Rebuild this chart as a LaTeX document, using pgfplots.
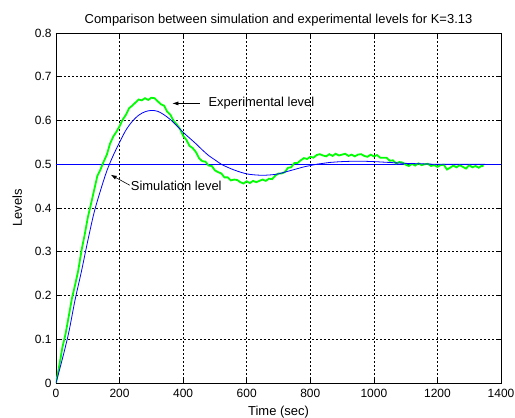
\documentclass[border=0pt]{standalone}
\usepackage{fontspec}
\setmainfont{Liberation Sans}
\usepackage{pgfplots}
\pgfplotsset{compat=1.18}
\usetikzlibrary{arrows.meta, calc}
\definecolor{simblue}{RGB}{0,0,255}
\definecolor{expgreen}{RGB}{0,255,0}

\begin{document}
\begin{tikzpicture}
  \begin{axis}[
    scale only axis,
    width=445bp,
    height=350bp,
    xmin=0, xmax=1400,
    ymin=0, ymax=0.8,
    xtick={0,200,400,600,800,1000,1200,1400},
    xticklabels={0,200,400,600,800,1000,1200,1400},
    ytick={0,0.1,0.2,0.3,0.4,0.5,0.6,0.7,0.8},
    yticklabels={0,0.1,0.2,0.3,0.4,0.5,0.6,0.7,0.8},
    tick align=inside,
    major tick length=4bp,
    grid=major,
    grid style={black, line width=0.5bp, dash pattern=on 2bp off 2bp},
    axis line style={black, line width=0.6bp},
    tick style={black, line width=0.6bp},
    font=\fontsize{13}{15}\selectfont,
    tick label style={font=\fontsize{12}{14}\selectfont},
    xticklabel style={yshift=-3bp},
    yticklabel style={xshift=-1bp},
    title={Comparison between simulation and experimental levels for K=3.13},
    title style={yshift=-3bp},
    xlabel={Time (sec)},
    xlabel style={yshift=-1bp},
    ylabel={Levels},
    ylabel style={yshift=6bp},
  ]

    % Sollwert 0.5
    \addplot[simblue, line width=0.8bp] coordinates {(0,0.5) (1400,0.5)};

    % Experimenteller Verlauf (verrauscht)
    \addplot[expgreen, line width=1.8bp] coordinates {
      (0,0) (10,0.038) (20,0.081) (30,0.112) (40,0.152) (50,0.193)
      (60,0.224) (70,0.257) (80,0.302) (90,0.338) (100,0.378) (110,0.409)
      (120,0.441) (130,0.473) (140,0.488) (150,0.506) (160,0.522) (170,0.547)
      (180,0.563) (190,0.574) (200,0.587) (210,0.602) (220,0.613) (230,0.628)
      (240,0.634) (250,0.641) (260,0.648) (270,0.646) (280,0.651) (290,0.647)
      (300,0.652) (310,0.651) (320,0.644) (330,0.637) (340,0.634) (350,0.62)
      (360,0.613) (370,0.599) (380,0.591) (390,0.581) (400,0.565) (410,0.556)
      (420,0.542) (430,0.537) (440,0.528) (450,0.514) (460,0.507) (470,0.506)
      (480,0.497) (490,0.496) (500,0.486) (510,0.482) (520,0.479) (530,0.47)
      (540,0.47) (550,0.463) (560,0.465) (570,0.464) (580,0.459) (590,0.456)
      (600,0.461) (610,0.457) (620,0.462) (630,0.459) (640,0.462) (650,0.465)
      (660,0.462) (670,0.467) (680,0.466) (690,0.474) (700,0.479) (710,0.479)
      (720,0.482) (730,0.492) (740,0.493) (750,0.503) (760,0.503) (770,0.509)
      (780,0.514) (790,0.512) (800,0.517) (810,0.515) (820,0.521) (830,0.523)
      (840,0.52) (850,0.518) (860,0.523) (870,0.519) (880,0.524) (890,0.52)
      (900,0.522) (910,0.524) (920,0.519) (930,0.522) (940,0.518) (950,0.522)
      (960,0.523) (970,0.519) (980,0.517) (990,0.522) (1000,0.518) (1010,0.521)
      (1020,0.515) (1030,0.515) (1040,0.515) (1050,0.508) (1060,0.509) (1070,0.502)
      (1080,0.505) (1090,0.504) (1100,0.499) (1110,0.496) (1120,0.501) (1130,0.497)
      (1140,0.502) (1150,0.498) (1160,0.5) (1170,0.501) (1180,0.496) (1190,0.498)
      (1200,0.494) (1210,0.498) (1220,0.499) (1230,0.488) (1240,0.492) (1250,0.497)
      (1260,0.493) (1270,0.498) (1280,0.494) (1290,0.49) (1300,0.498) (1310,0.493)
      (1320,0.496) (1330,0.492) (1340,0.497) (1345,0.495)
    };

    % Simulierter Verlauf
    \addplot[simblue, line width=0.8bp, smooth] coordinates {
      (0,0) (20,0.055) (40,0.115) (60,0.19) (80,0.255) (100,0.325)
      (120,0.39) (140,0.44) (160,0.485) (180,0.52) (200,0.55) (220,0.578)
      (240,0.598) (260,0.612) (280,0.62) (300,0.623) (320,0.621) (340,0.613)
      (360,0.602) (380,0.588) (400,0.573) (420,0.56) (440,0.547) (460,0.533)
      (480,0.52) (500,0.51) (520,0.5) (540,0.493) (560,0.487) (580,0.482)
      (600,0.478) (620,0.476) (640,0.475) (660,0.475) (680,0.476) (700,0.478)
      (720,0.482) (740,0.486) (760,0.49) (780,0.494) (800,0.497) (820,0.5)
      (840,0.502) (860,0.504) (900,0.506) (950,0.507) (1000,0.506) (1050,0.504)
      (1100,0.502) (1150,0.501) (1200,0.5) (1350,0.5)
    };

    % Beschriftungen mit Pfeilen
    \draw[black, line width=0.6bp, -{Latex[length=6bp, width=4bp]}]
      (axis cs:452,0.639) -- (axis cs:366,0.639);
    \node[anchor=west, inner sep=1bp] at (axis cs:476,0.639) {Experimental level};

    \draw[black, line width=0.6bp, -{Latex[length=6bp, width=4bp]}]
      (axis cs:232,0.452) -- (axis cs:172,0.476);
    \node[anchor=west, inner sep=1bp] at (axis cs:232,0.45) {Simulation level};

    \coordinate (bl) at (rel axis cs:0,0);
    \coordinate (tr) at (rel axis cs:1,1);
  \end{axis}
  \pgfresetboundingbox
  \path[use as bounding box] ($(bl)+(-56bp,-35bp)$) rectangle ($(tr)+(14bp,33bp)$);
\end{tikzpicture}
\end{document}
